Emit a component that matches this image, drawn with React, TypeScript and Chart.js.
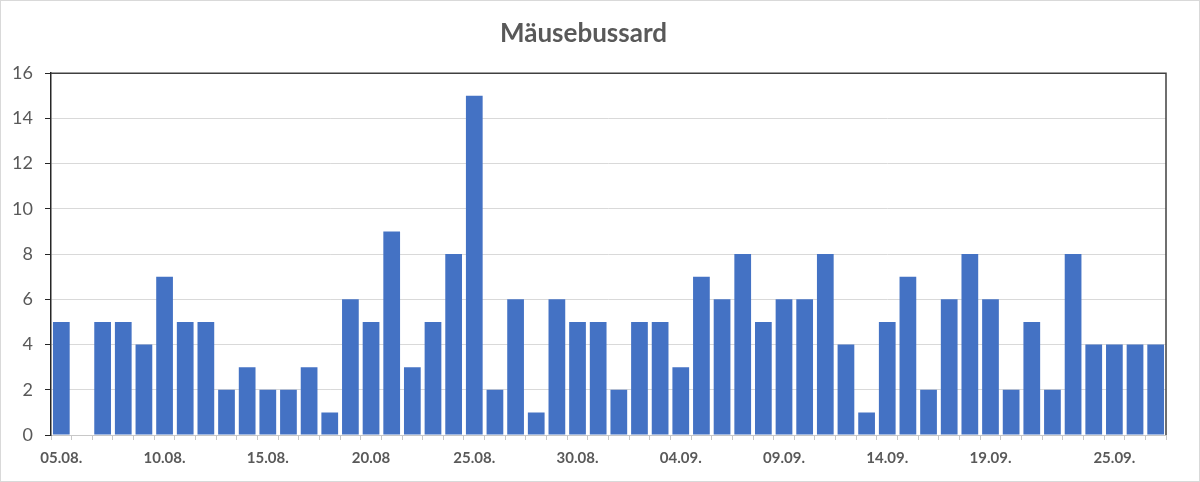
import React, { useEffect, useRef } from 'react';
import { Chart, registerables } from 'chart.js';

Chart.register(...registerables);

// one bar per day, 05.08. to 28.09.
const dates = [
  '05.08.', '06.08.', '07.08.', '08.08.', '09.08.', '10.08.', '11.08.', '12.08.', '13.08.', '14.08.',
  '15.08.', '16.08.', '17.08.', '18.08.', '19.08.', '20.08.', '21.08.', '22.08.', '23.08.', '24.08.',
  '25.08.', '26.08.', '27.08.', '28.08.', '29.08.', '30.08.', '31.08.', '01.09.', '02.09.', '03.09.',
  '04.09.', '05.09.', '06.09.', '07.09.', '08.09.', '09.09.', '10.09.', '11.09.', '12.09.', '13.09.',
  '14.09.', '15.09.', '16.09.', '17.09.', '18.09.', '19.09.', '20.09.', '21.09.', '22.09.', '23.09.',
  '24.09.', '25.09.', '26.09.', '27.09.',
];

const counts = [
  5, 0, 5, 5, 4, 7, 5, 5, 2, 3,
  2, 2, 3, 1, 6, 5, 9, 3, 5, 8,
  15, 2, 6, 1, 6, 5, 5, 2, 5, 5,
  3, 7, 6, 8, 5, 6, 6, 8, 4, 1,
  5, 7, 2, 6, 8, 6, 2, 5, 2, 8,
  4, 4, 4, 4,
];

// labels shown under the axis, and at which bar
const tickLabels = ['05.08.', '10.08.', '15.08.', '20.08', '25.08.', '30.08.', '04.09.', '09.09.', '14.09.', '19.09.', '25.09.'];
const tickAt = [0, 5, 10, 15, 20, 25, 30, 35, 40, 45, 51];

const FONT = 'Lato, "Noto Sans", sans-serif';

// dark frame on top and right of the plot area
const frame = {
  id: 'frame',
  afterDatasetsDraw(chart: any) {
    const { ctx, chartArea: a } = chart;
    ctx.save();
    ctx.strokeStyle = '#404040';
    ctx.lineWidth = 1.5;
    ctx.beginPath();
    ctx.moveTo(a.left, a.top);
    ctx.lineTo(a.right, a.top);
    ctx.lineTo(a.right, a.bottom);
    ctx.stroke();
    ctx.restore();
  },
};

const App = () => {
  const canvasRef = useRef<HTMLCanvasElement | null>(null);

  useEffect(() => {
    document.body.style.margin = '0';
    const canvas = canvasRef.current;
    if (!canvas) return;

    const chart = new Chart(canvas, {
      type: 'bar',
      data: {
        labels: dates,
        datasets: [
          {
            label: 'Mäusebussard',
            data: counts,
            backgroundColor: '#4472C4',
            barPercentage: 0.81,
            categoryPercentage: 1,
          },
        ],
      },
      options: {
        animation: false,
        responsive: false,
        layout: { padding: { left: 0, right: 33, top: 0, bottom: 0 } },
        plugins: {
          legend: { display: false },
          tooltip: { enabled: false },
          title: {
            display: true,
            text: 'Mäusebussard',
            color: '#595959',
            font: { family: FONT, size: 26, weight: 'bold' },
            padding: { top: 17, bottom: 24 },
          },
        },
        scales: {
          x: {
            afterFit: (s: any) => { s.height = 46; },
            border: { color: '#c8c8c8', width: 1 },
            grid: { offset: true, drawOnChartArea: false, tickLength: 5, color: '#c8c8c8' },
            ticks: {
              autoSkip: false,
              maxRotation: 0,
              padding: 9,
              color: '#595959',
              font: { family: FONT, size: 15, weight: 'bold' },
              callback: (_v: any, i: number) => {
                const k = tickAt.indexOf(i);
                return k >= 0 ? tickLabels[k] : '';
              },
            },
          },
          y: {
            min: 0,
            max: 16,
            afterFit: (s: any) => { s.width = 50; },
            border: { color: '#262626', width: 1.5 },
            grid: { color: '#d9d9d9', tickColor: '#262626', tickLength: 6 },
            ticks: {
              stepSize: 2,
              padding: 12,
              color: '#595959',
              font: { family: FONT, size: 18 },
            },
          },
        },
      },
      plugins: [frame],
    });

    return () => {
      chart.destroy();
    };
  }, []);

  return (
    <div style={{ width: 1200, height: 482, border: '1px solid #d9d9d9', boxSizing: 'border-box', background: '#fff' }}>
      <canvas ref={canvasRef} width={1198} height={480}></canvas>
    </div>
  );
};

export default App;
